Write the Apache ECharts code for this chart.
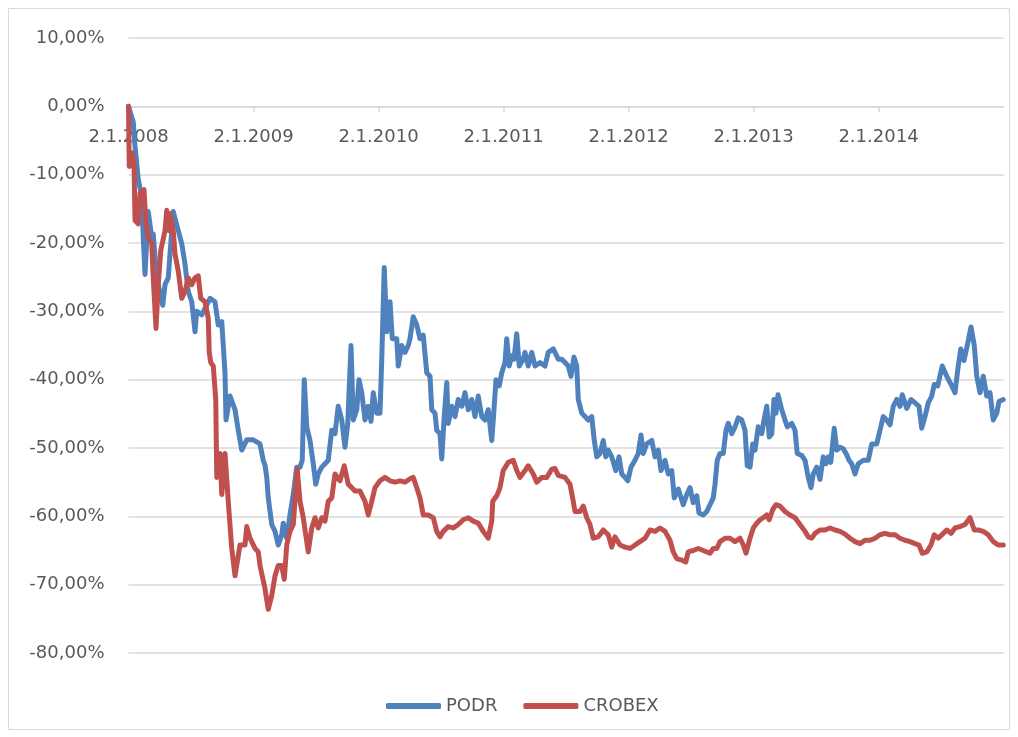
<!DOCTYPE html>
<html>
<head>
<meta charset="utf-8">
<script src="https://cdn.jsdelivr.net/npm/echarts@6/dist/echarts.min.js"></script>
<style>
html,body{margin:0;padding:0;background:#fff;}
#c{width:1018px;height:737px;}
</style>
</head>
<body>
<div id="c"></div>
<script>
// x positions are dates in decimal years (2008.0 = 2.1.2008)
var yearTicks = [2008, 2009, 2010, 2011, 2012, 2013, 2014];
var seriesNames = ['PODR', 'CROBEX'];
var yTicks = [-80, 10, 10]; // min, max, step

var podrDates = [2008.000,2008.038,2008.052,2008.078,2008.106,2008.118,2008.132,2008.158,2008.186,2008.198,2008.212,2008.238,2008.274,2008.292,2008.318,2008.346,2008.358,2008.398,2008.426,2008.452,2008.478,2008.506,2008.532,2008.546,2008.586,2008.626,2008.652,2008.692,2008.718,2008.746,2008.772,2008.780,2008.812,2008.852,2008.878,2008.906,2008.946,2008.998,2009.052,2009.078,2009.092,2009.106,2009.118,2009.146,2009.172,2009.198,2009.226,2009.238,2009.266,2009.292,2009.318,2009.346,2009.372,2009.390,2009.406,2009.426,2009.452,2009.478,2009.498,2009.518,2009.546,2009.572,2009.598,2009.626,2009.652,2009.678,2009.706,2009.732,2009.754,2009.780,2009.798,2009.826,2009.844,2009.866,2009.892,2009.918,2009.940,2009.958,2009.986,2010.012,2010.026,2010.046,2010.066,2010.092,2010.110,2010.146,2010.158,2010.186,2010.212,2010.238,2010.252,2010.278,2010.306,2010.332,2010.358,2010.386,2010.412,2010.426,2010.452,2010.466,2010.492,2010.506,2010.524,2010.546,2010.558,2010.586,2010.612,2010.638,2010.666,2010.692,2010.718,2010.746,2010.772,2010.798,2010.826,2010.852,2010.878,2010.906,2010.918,2010.940,2010.966,2010.986,2011.012,2011.026,2011.046,2011.066,2011.084,2011.106,2011.126,2011.158,2011.172,2011.198,2011.226,2011.252,2011.292,2011.332,2011.358,2011.398,2011.438,2011.466,2011.492,2011.518,2011.540,2011.564,2011.586,2011.598,2011.626,2011.652,2011.678,2011.706,2011.726,2011.746,2011.772,2011.798,2011.818,2011.838,2011.866,2011.898,2011.924,2011.946,2011.972,2011.994,2012.020,2012.052,2012.078,2012.100,2012.118,2012.146,2012.186,2012.212,2012.238,2012.260,2012.292,2012.318,2012.346,2012.366,2012.398,2012.438,2012.466,2012.492,2012.518,2012.546,2012.564,2012.598,2012.626,2012.652,2012.678,2012.692,2012.710,2012.732,2012.758,2012.780,2012.798,2012.826,2012.852,2012.878,2012.906,2012.932,2012.950,2012.972,2012.994,2013.012,2013.038,2013.066,2013.084,2013.106,2013.126,2013.146,2013.164,2013.180,2013.196,2013.226,2013.252,2013.270,2013.306,2013.332,2013.350,2013.386,2013.412,2013.438,2013.460,2013.478,2013.506,2013.532,2013.558,2013.580,2013.598,2013.618,2013.646,2013.666,2013.692,2013.718,2013.746,2013.764,2013.786,2013.812,2013.838,2013.878,2013.918,2013.946,2013.986,2014.012,2014.038,2014.066,2014.092,2014.118,2014.146,2014.172,2014.190,2014.226,2014.260,2014.292,2014.324,2014.346,2014.372,2014.398,2014.426,2014.446,2014.474,2014.510,2014.546,2014.580,2014.612,2014.638,2014.658,2014.684,2014.710,2014.740,2014.766,2014.786,2014.812,2014.838,2014.866,2014.892,2014.918,2014.946,2014.964,2014.998];
var podrValues = [0.0,-2.3,-5.8,-10.7,-13.2,-19.2,-24.6,-15.4,-19.2,-18.7,-22.1,-26.1,-29.1,-26.1,-25.1,-18.2,-15.4,-18.2,-20.1,-23.1,-27.1,-28.6,-33.0,-30.0,-30.5,-29.1,-28.1,-28.6,-32.0,-31.5,-39.0,-45.9,-42.4,-44.4,-47.4,-50.3,-48.8,-48.8,-49.4,-51.8,-52.5,-54.3,-57.3,-61.2,-62.2,-64.2,-62.7,-61.0,-63.2,-59.8,-56.8,-52.8,-52.8,-51.8,-40.0,-46.9,-48.9,-52.3,-55.3,-53.8,-52.8,-52.3,-51.8,-47.4,-47.9,-43.9,-45.9,-49.9,-46.4,-35.0,-45.9,-44.4,-40.0,-41.9,-45.9,-43.9,-46.1,-41.9,-44.9,-44.9,-37.0,-23.6,-33.0,-28.6,-34.0,-34.0,-38.0,-35.0,-36.0,-35.0,-34.0,-30.8,-32.0,-34.0,-33.5,-39.0,-39.5,-44.4,-44.9,-47.4,-47.9,-51.6,-45.9,-40.4,-46.4,-43.9,-45.4,-42.9,-43.9,-41.9,-44.4,-42.9,-45.4,-42.4,-45.4,-45.9,-44.4,-48.9,-45.9,-40.0,-40.9,-39.0,-37.5,-34.0,-38.0,-36.5,-37.0,-33.3,-38.0,-37.0,-36.0,-38.0,-36.0,-38.0,-37.5,-38.0,-36.0,-35.5,-37.0,-37.0,-37.5,-38.0,-39.5,-36.7,-38.0,-42.9,-44.9,-45.4,-45.9,-45.4,-48.9,-51.3,-50.8,-48.9,-51.3,-50.3,-51.3,-53.3,-51.3,-53.8,-54.3,-54.8,-52.8,-51.8,-50.8,-48.1,-50.8,-49.4,-48.9,-51.3,-50.3,-53.3,-51.8,-53.8,-53.3,-57.3,-56.0,-58.3,-56.8,-55.8,-58.0,-57.0,-59.5,-59.8,-59.3,-58.3,-57.3,-55.3,-51.8,-50.8,-50.8,-47.4,-46.4,-47.9,-46.9,-45.6,-45.9,-47.4,-52.6,-52.8,-49.4,-50.3,-46.9,-47.9,-45.9,-43.9,-48.4,-47.9,-42.9,-44.9,-42.2,-44.4,-45.9,-46.9,-46.4,-47.4,-50.8,-51.1,-51.8,-54.3,-55.8,-53.8,-52.8,-54.6,-51.3,-52.3,-51.3,-52.1,-47.1,-50.3,-49.9,-50.1,-51.0,-51.8,-52.3,-53.8,-52.3,-51.8,-51.8,-49.4,-49.4,-47.4,-45.4,-45.9,-46.6,-43.9,-42.9,-43.9,-42.2,-44.2,-42.9,-43.4,-43.9,-47.1,-45.4,-43.4,-42.4,-40.7,-40.9,-38.0,-39.5,-40.7,-41.9,-38.0,-35.5,-37.2,-35.0,-32.3,-35.0,-39.5,-41.9,-39.5,-42.4,-41.9,-45.9,-44.9,-43.2,-42.9];

var crobexDates = [2008.000,2008.006,2008.026,2008.044,2008.052,2008.078,2008.092,2008.124,2008.140,2008.158,2008.186,2008.198,2008.220,2008.238,2008.258,2008.292,2008.306,2008.326,2008.332,2008.358,2008.372,2008.398,2008.426,2008.452,2008.478,2008.506,2008.532,2008.558,2008.578,2008.612,2008.638,2008.646,2008.658,2008.678,2008.698,2008.706,2008.732,2008.746,2008.772,2008.798,2008.826,2008.852,2008.892,2008.932,2008.946,2008.972,2009.012,2009.038,2009.052,2009.092,2009.118,2009.146,2009.172,2009.198,2009.226,2009.246,2009.266,2009.292,2009.318,2009.350,2009.372,2009.398,2009.438,2009.466,2009.492,2009.518,2009.546,2009.572,2009.598,2009.626,2009.652,2009.692,2009.726,2009.758,2009.786,2009.812,2009.852,2009.892,2009.918,2009.946,2009.972,2010.012,2010.052,2010.092,2010.132,2010.172,2010.212,2010.252,2010.278,2010.306,2010.332,2010.358,2010.398,2010.438,2010.466,2010.492,2010.518,2010.558,2010.598,2010.638,2010.678,2010.718,2010.758,2010.798,2010.838,2010.878,2010.906,2010.914,2010.946,2010.972,2010.998,2011.038,2011.078,2011.106,2011.132,2011.172,2011.198,2011.238,2011.266,2011.306,2011.346,2011.386,2011.412,2011.438,2011.492,2011.532,2011.558,2011.572,2011.612,2011.638,2011.666,2011.692,2011.718,2011.758,2011.798,2011.838,2011.866,2011.892,2011.932,2011.972,2012.012,2012.052,2012.092,2012.132,2012.172,2012.212,2012.252,2012.292,2012.332,2012.358,2012.386,2012.426,2012.458,2012.478,2012.518,2012.558,2012.598,2012.652,2012.678,2012.706,2012.732,2012.772,2012.812,2012.852,2012.892,2012.918,2012.940,2012.972,2012.998,2013.026,2013.052,2013.078,2013.106,2013.126,2013.154,2013.180,2013.212,2013.252,2013.292,2013.332,2013.372,2013.412,2013.438,2013.466,2013.492,2013.532,2013.572,2013.612,2013.652,2013.692,2013.732,2013.772,2013.812,2013.852,2013.892,2013.932,2013.972,2014.012,2014.052,2014.092,2014.132,2014.172,2014.212,2014.252,2014.292,2014.324,2014.350,2014.386,2014.420,2014.446,2014.478,2014.518,2014.546,2014.580,2014.612,2014.652,2014.692,2014.732,2014.766,2014.798,2014.838,2014.878,2014.918,2014.958,2014.998];
var crobexValues = [0.0,-8.8,-6.8,-8.3,-16.7,-17.2,-12.7,-12.2,-17.2,-19.2,-20.1,-25.1,-32.5,-26.1,-21.1,-18.2,-15.2,-18.2,-15.7,-18.2,-21.6,-24.1,-28.1,-27.1,-25.1,-26.1,-25.1,-24.8,-28.1,-28.6,-31.0,-36.0,-37.5,-38.0,-42.9,-54.3,-50.8,-56.8,-50.8,-57.8,-64.7,-68.7,-64.2,-64.2,-61.5,-63.2,-64.7,-65.2,-67.2,-70.6,-73.6,-71.6,-68.7,-67.2,-67.2,-69.2,-64.2,-62.2,-61.2,-53.1,-57.8,-60.2,-65.2,-61.7,-60.2,-61.7,-60.2,-60.7,-57.8,-57.3,-53.8,-54.8,-52.6,-55.3,-55.8,-56.3,-56.3,-57.8,-59.8,-57.8,-55.8,-54.8,-54.3,-54.8,-55.0,-54.8,-55.0,-54.5,-54.3,-55.8,-57.3,-59.8,-59.8,-60.2,-62.2,-63.0,-62.2,-61.5,-61.7,-61.2,-60.5,-60.2,-60.7,-61.0,-62.2,-63.2,-60.7,-57.8,-57.0,-55.8,-53.3,-52.1,-51.8,-53.3,-54.3,-53.3,-52.6,-53.8,-55.0,-54.3,-54.3,-53.1,-53.0,-54.0,-54.3,-55.3,-57.8,-59.3,-59.3,-58.5,-60.2,-61.2,-63.2,-63.0,-62.0,-62.7,-64.5,-63.0,-64.2,-64.5,-64.7,-64.2,-63.7,-63.2,-62.0,-62.2,-61.7,-62.2,-63.5,-65.2,-66.2,-66.4,-66.7,-65.2,-65.0,-64.7,-65.0,-65.4,-64.7,-64.7,-63.7,-63.2,-63.2,-63.7,-63.2,-64.2,-65.4,-63.2,-61.7,-61.0,-60.5,-60.2,-59.8,-60.5,-59.0,-58.3,-58.5,-59.3,-59.8,-60.2,-61.2,-62.2,-63.0,-63.2,-62.5,-62.0,-62.0,-61.7,-62.0,-62.2,-62.6,-63.2,-63.7,-64.0,-63.5,-63.5,-63.2,-62.7,-62.5,-62.7,-62.7,-63.2,-63.5,-63.7,-64.0,-64.2,-65.4,-65.2,-64.2,-62.7,-63.2,-62.5,-62.0,-62.5,-61.7,-61.5,-61.2,-60.2,-62.0,-62.0,-62.2,-62.7,-63.7,-64.2,-64.2];

function zip(xs, ys) {
  var out = [];
  for (var i = 0; i < xs.length && i < ys.length; i++) out.push([xs[i], ys[i]]);
  return out;
}

var FONT = 'DejaVu Sans';
var TXT = '#595959';
var GRID = '#d9d9d9';

var W = 1018, H = 737;
var gridTop = 38, gridBottom = 84;
var plotH = H - gridTop - gridBottom;
// distance from grid top to the 0 line, derived from the y scale
var zeroOffset = plotH * (yTicks[1] - 0) / (yTicks[1] - yTicks[0]);

var chart = echarts.init(document.getElementById('c'), null, {renderer: 'canvas'});
chart.setOption({
  animation: false,
  backgroundColor: '#ffffff',
  textStyle: {fontFamily: FONT, color: TXT},
  graphic: [{
    type: 'rect',
    shape: {x: 8.5, y: 8.5, width: 1001, height: 721},
    style: {fill: 'none', stroke: GRID, lineWidth: 1},
    silent: true, z: -10
  }],
  grid: {left: 128.5, right: 14.5, top: gridTop, bottom: gridBottom, containLabel: false},
  legend: {
    left: 381, top: 692,
    itemWidth: 55, itemHeight: 6, itemGap: 26,
    icon: 'roundRect',
    textStyle: {fontFamily: FONT, fontSize: 18, color: TXT},
    data: seriesNames
  },
  xAxis: {
    type: 'value',
    position: 'top',
    offset: -zeroOffset,
    min: yearTicks[0], max: yearTicks[yearTicks.length - 1] + 1, interval: 1,
    axisLine: {show: true, onZero: false, lineStyle: {color: GRID, width: 1.5}},
    axisTick: {show: true, inside: true, length: 6, lineStyle: {color: GRID, width: 1.5}},
    axisLabel: {
      show: true, inside: true, margin: 22, fontFamily: FONT, fontSize: 18, color: TXT,
      showMaxLabel: false,
      formatter: function (v) { return yearTicks.indexOf(Math.round(v)) >= 0 ? '2.1.' + Math.round(v) : ''; }
    },
    splitLine: {show: false}
  },
  yAxis: {
    type: 'value', min: yTicks[0], max: yTicks[1], interval: yTicks[2],
    axisLine: {show: false, onZero: false}, axisTick: {show: false},
    axisLabel: {
      margin: 24, fontFamily: FONT, fontSize: 18, color: TXT,
      formatter: function (v) { return v.toFixed(2).replace('.', ',') + '%'; }
    },
    splitLine: {show: true, lineStyle: {color: GRID, width: 1.5}}
  },
  series: [{
    name: seriesNames[0], type: 'line', showSymbol: false, symbol: 'none',
    data: zip(podrDates, podrValues),
    lineStyle: {color: '#4f81bd', width: 5, join: 'round', cap: 'round'},
    itemStyle: {color: '#4f81bd'}, z: 2
  }, {
    name: seriesNames[1], type: 'line', showSymbol: false, symbol: 'none',
    data: zip(crobexDates, crobexValues),
    lineStyle: {color: '#c0504d', width: 5, join: 'round', cap: 'round'},
    itemStyle: {color: '#c0504d'}, z: 3
  }]
});
</script>
</body>
</html>
